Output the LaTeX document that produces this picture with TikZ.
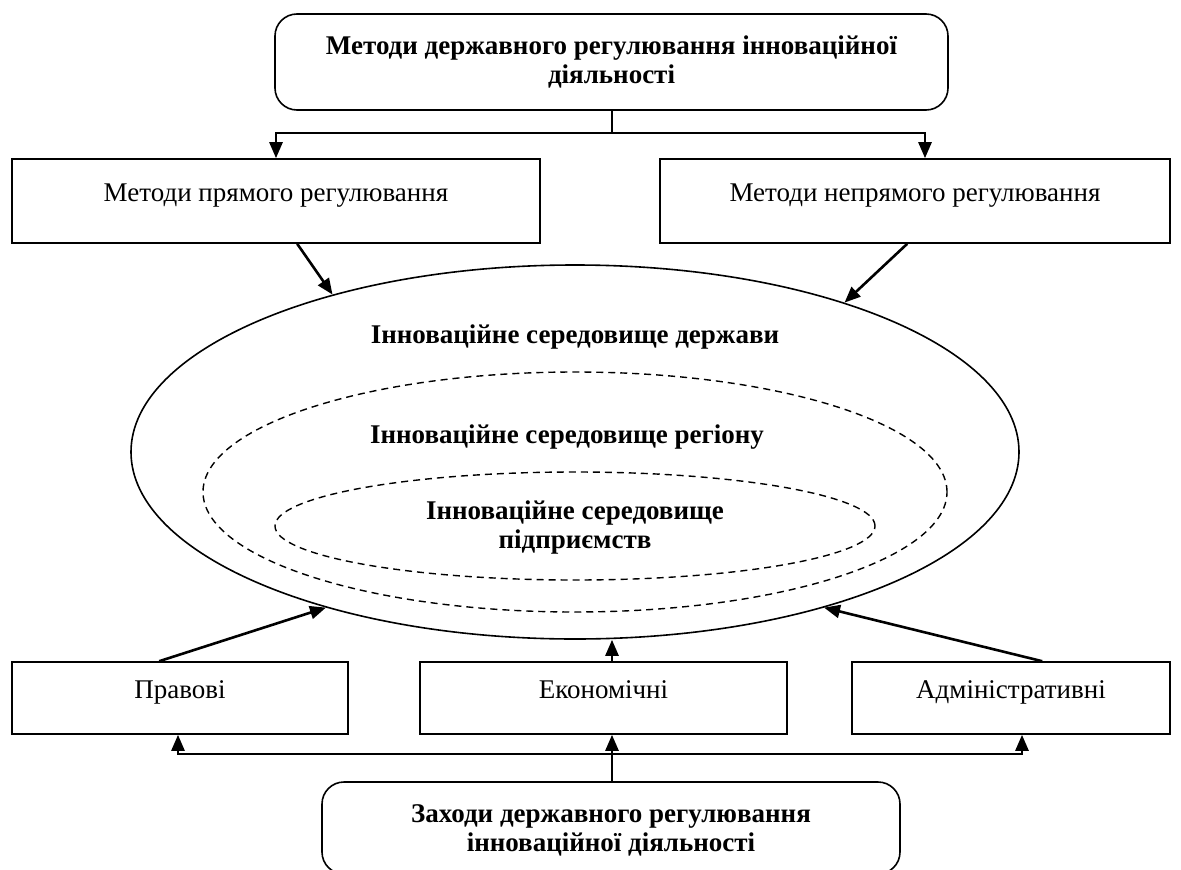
\documentclass[tikz,border=0pt]{standalone}
\usepackage{fontspec}
\setmainfont{Liberation Serif}
\usetikzlibrary{arrows.meta,shapes.geometric,calc}
\begin{document}
\begin{tikzpicture}[x=1pt,y=-1pt,
  txt/.style={font=\fontsize{27}{30}\selectfont},
  btxt/.style={font=\fontsize{27}{29}\selectfont\bfseries},
  box/.style={draw,line width=1.6pt,inner sep=0pt,align=center,txt},
  mid/.style={text height=20pt,text depth=20pt},
  rbox/.style={box,rounded corners=22pt,btxt},
  ring/.style={ellipse,inner sep=0pt},
  dring/.style={ring,draw,dash pattern=on 7pt off 5pt,line width=1.4pt},
  conn/.style={line width=2.6pt,-{Triangle[width=13pt,length=16pt]}}]
\useasboundingbox (0,0) rectangle (1181,870);
% top
\node[rbox,minimum width=673pt,minimum height=96pt] (top) at (611.5,62)
  {Методи державного регулювання інноваційної\\діяльності};
\node[box,mid,minimum width=528pt,minimum height=84pt] (pr) at (276,201) {Методи прямого регулювання};
\node[box,mid,minimum width=510pt,minimum height=84pt] (npr) at (915,201) {Методи непрямого регулювання};
% ellipses
\node[ring,draw,line width=1.6pt,minimum width=888pt,minimum height=374pt] (outer) at (575,452) {};
\node[dring,minimum width=744pt,minimum height=240pt] (reg) at (575,492) {};
\node[dring,minimum width=600pt,minimum height=108pt] (ent) at (575,526) {};
\node[btxt] (tstate) at (575,337) {Інноваційне середовище держави};
\node[btxt] (treg) at (567,437) {Інноваційне середовище регіону};
\node[btxt,align=center] (tent) at (575,528) {Інноваційне середовище\\підприємств};
% bottom boxes
\node[box,mid,minimum width=336pt,minimum height=72pt] (prav) at (180,698) {Правові};
\node[box,mid,minimum width=367pt,minimum height=72pt] (econ) at (603.5,698) {Економічні};
\node[box,mid,minimum width=318pt,minimum height=72pt] (adm) at (1011,698) {Адміністративні};
\node[rbox,minimum width=578pt,minimum height=92pt] (zah) at (611,828) {};
\node[btxt,align=center] (zaht) at (611,830) {Заходи державного регулювання\\інноваційної діяльності};
% connectors top
\coordinate (tj) at (612,133);
\coordinate (tr) at (925,133);
\draw[conn] (top.south -| tj) -- (tj) -| (pr.north);
\draw[conn] (tj) -- (tr) -- (npr.north -| tr);
\draw[conn] ($(pr.south west)+(286,0)$) -- (outer.147);
\draw[conn] ($(npr.south west)+(248,0)$) -- (outer.29);
% connectors bottom
\draw[conn] ($(prav.north west)+(148,0)$) -- (outer.212.8);
\draw[conn] ($(adm.north west)+(191,0)$) -- (outer.-32);
\coordinate (bj) at (612,754);
\coordinate (bl) at (178,754);
\coordinate (br) at (1022,754);
\draw[conn] (econ.north -| bj) -- (bj |- outer.south);
\draw[conn] (zah.north -| bj) -- (econ.south -| bj);
\draw[conn] (bj) -- (bl) -- (prav.south -| bl);
\draw[conn] (bj) -- (br) -- (adm.south -| br);
\end{tikzpicture}
\end{document}
